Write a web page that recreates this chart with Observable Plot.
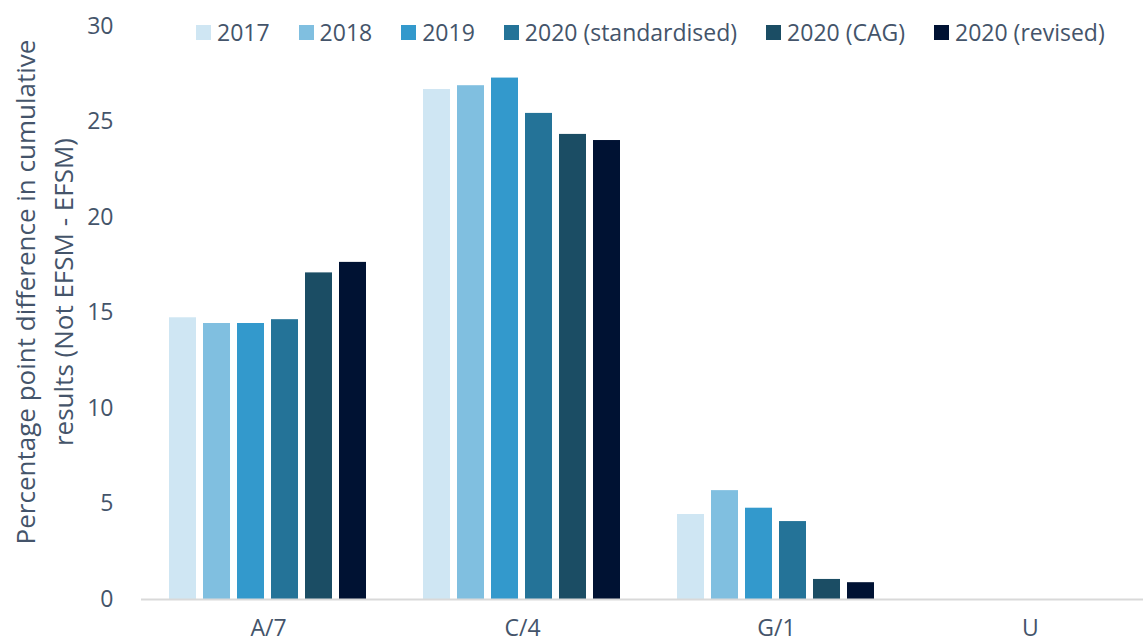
<!DOCTYPE html>
<html>
<head>
<meta charset="utf-8">
<script src="https://cdn.jsdelivr.net/npm/d3@7"></script>
<script src="https://cdn.jsdelivr.net/npm/@observablehq/plot@0.6"></script>
<style>
  html, body { margin: 0; padding: 0; background: #fff; overflow: hidden; }
  #wrap { position: relative; width: 1143px; height: 644px; overflow: hidden; font-family: "Open Sans", sans-serif; color: #44546a; }
  #legend { position: absolute; left: 196px; top: 16px; display: flex; align-items: center; font-size: 23px; white-space: nowrap; }
  #legend .item { display: flex; align-items: center; margin-right: 29px; }
  #legend .sw { width: 15px; height: 15px; margin-right: 6px; }
  #ytitle { position: absolute; left: 44px; top: 292px; transform: translate(-50%, -50%) rotate(-90deg); text-align: center; font-size: 26px; line-height: 38px; white-space: nowrap; }
  #chart { position: absolute; left: 0; top: 0; width: 1157px; }
  #chart svg { max-width: none !important; }
</style>
</head>
<body>
<div id="wrap">
  <div id="chart"></div>
  <div id="legend"></div>
  <div id="ytitle">Percentage point difference in cumulative<br>results (Not EFSM - EFSM)</div>
</div>
<script>
const categories = ["A/7", "C/4", "G/1", "U"];
const series = ["2017", "2018", "2019", "2020 (standardised)", "2020 (CAG)", "2020 (revised)"];
const colors = ["#cfe6f3", "#80bfe0", "#3399cc", "#247398", "#1b4d64", "#001233"];
const values2017 = [14.75, 26.7, 4.45, 0];
const values2018 = [14.45, 26.9, 5.7, 0];
const values2019 = [14.45, 27.3, 4.78, 0];
const values2020std = [14.65, 25.45, 4.08, 0];
const values2020cag = [17.1, 24.35, 1.05, 0];
const values2020rev = [17.65, 24.03, 0.88, 0];
const yTicks = [0, 5, 10, 15, 20, 25, 30];

const seriesValues = [values2017, values2018, values2019, values2020std, values2020cag, values2020rev];
const data = [];
categories.forEach((c, i) => {
  series.forEach((s, j) => {
    data.push({category: c, series: s, value: seriesValues[j][i]});
  });
});

const textColor = "#44546a";

const chart = Plot.plot({
  width: 1157,
  height: 644,
  marginLeft: 141,
  marginRight: 0,
  marginTop: 26,
  marginBottom: 45,
  style: {fontFamily: "Open Sans, sans-serif", fontSize: "22px", color: textColor, background: "transparent", maxWidth: "none"},
  fx: {domain: categories, padding: 0, label: null, axis: null},
  x: {domain: series, paddingInner: 0.2, paddingOuter: 0.75, axis: null},
  y: {domain: [0, 30], axis: null},
  color: {domain: series, range: colors},
  marks: [
    Plot.axisY({ticks: yTicks, tickSize: 0, tickFormat: () => "", line: true, stroke: "#d9d9d9", strokeWidth: 2, label: null}),
    Plot.axisY({ticks: yTicks, tickSize: 0, tickPadding: 28, label: null, fill: textColor, fontSize: 23}),
    Plot.barY(data, {fx: "category", x: "series", y: "value", fill: "series"}),
    Plot.ruleY([0], {stroke: "#d9d9d9", strokeWidth: 2}),
    Plot.axisFx({anchor: "bottom", tickSize: 0, tickPadding: 20, label: null, fill: textColor, fontSize: 23})
  ]
});
chart.style.maxWidth = "none";
document.getElementById("chart").appendChild(chart);

const legend = document.getElementById("legend");
series.forEach((s, j) => {
  const item = document.createElement("div");
  item.className = "item";
  const sw = document.createElement("div");
  sw.className = "sw";
  sw.style.background = colors[j];
  const label = document.createElement("span");
  label.textContent = s;
  item.appendChild(sw);
  item.appendChild(label);
  legend.appendChild(item);
});
</script>
</body>
</html>
